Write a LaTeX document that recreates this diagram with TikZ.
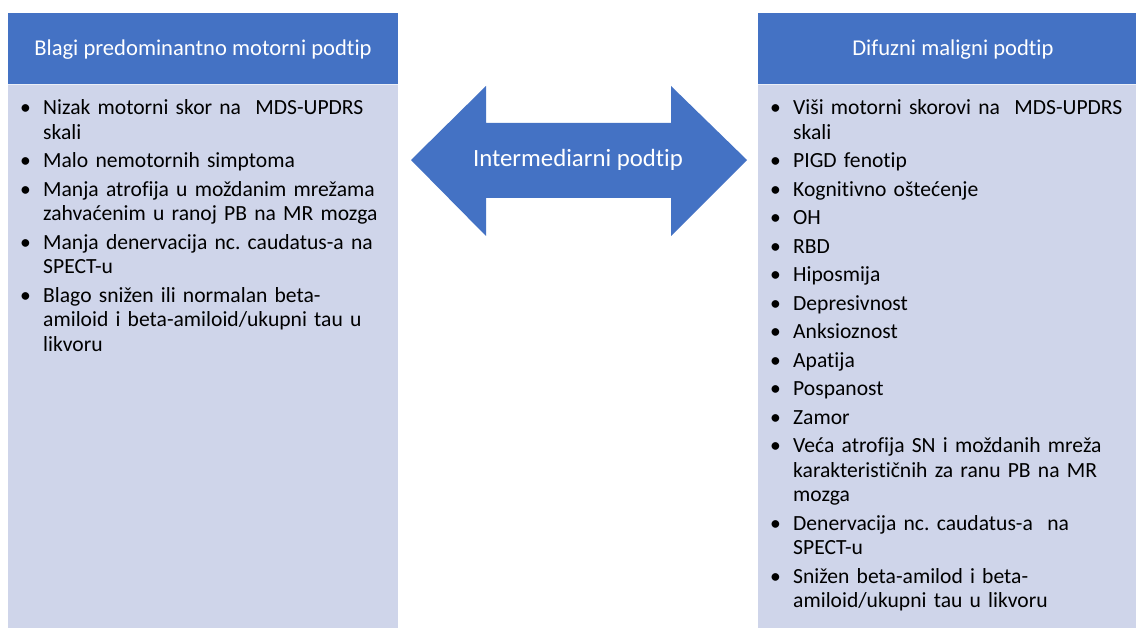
\documentclass[tikz,border=0pt]{standalone}
\usepackage{fontspec}
\setmainfont{Carlito}[Ligatures=NoCommon]
\frenchspacing
\definecolor{hdr}{HTML}{4472C4}
\definecolor{bdy}{HTML}{CFD5EA}
\newcommand{\bul}[1]{\par\noindent\makebox[22pt][l]{\hspace{-1pt}\textbullet}%
  \parbox[t]{345pt}{\raggedright\strut #1\strut}}
\tikzset{
  hdrbox/.style={fill=hdr, draw=none},
  bdybox/.style={fill=bdy, draw=none},
  hdrtext/.style={text=white, font=\fontsize{22.6}{26}\selectfont, inner sep=0pt, anchor=base},
  midtext/.style={text=white, font=\fontsize{24.8}{28}\selectfont, inner sep=0pt, anchor=base},
  listtext/.style={text=black, inner sep=0pt, anchor=north west, text width=370pt,
    font=\fontsize{21.6}{24.5}\selectfont\raggedright\setlength{\parskip}{4pt}\setlength{\lineskip}{0pt}\frenchspacing},
}
\begin{document}
\begin{tikzpicture}[x=1pt,y=-1pt]
\useasboundingbox[fill=white] (0,0) rectangle (1136,628);
% left box
\fill[bdybox] (8,84.5) rectangle (397.5,628);
\fill[hdrbox] (8,13) rectangle (397.5,84.5);
\draw[white, line width=0.8pt, opacity=0.6] (8,84.8) -- (397.5,84.8);
\node[hdrtext] (lh) at (203,56) {Blagi predominantno motorni podtip};
\node[listtext] (ll) at (21,86) {%
\bul{Nizak motorni skor na \ MDS-UPDRS\\skali}
\bul{Malo nemotornih simptoma}
\bul{Manja atrofija u moždanim mrežama\\zahvaćenim u ranoj PB na MR mozga}
\bul{Manja denervacija nc. caudatus-a na\\SPECT-u}
\bul{Blago snižen ili normalan beta-\\amiloid i beta-amiloid/ukupni tau u\\likvoru}};
% right box
\fill[bdybox] (758,84.5) rectangle (1136,628);
\fill[hdrbox] (758,13) rectangle (1136,84.5);
\draw[white, line width=0.8pt, opacity=0.6] (758,84.8) -- (1136,84.8);
\node[hdrtext] (rh) at (953,56) {Difuzni maligni podtip};
\node[listtext] (rl) at (771,86) {%
\bul{Viši motorni skorovi na \ MDS-UPDRS\\skali}
\bul{PIGD fenotip}
\bul{Kognitivno oštećenje}
\bul{OH}
\bul{RBD}
\bul{Hiposmija}
\bul{Depresivnost}
\bul{Anksioznost}
\bul{Apatija}
\bul{Pospanost}
\bul{Zamor}
\bul{Veća atrofija SN i moždanih mreža\\karakterističnih za ranu PB na MR\\mozga}
\bul{Denervacija nc. caudatus-a \ na\\SPECT-u}
\bul{Snižen beta-amilod i beta-\\amiloid/ukupni tau u likvoru}};
% double arrow
\fill[hdr] (411,160) -- (486,86) -- (486,123) -- (671,123) -- (671,86) -- (747,160)
  -- (671,236) -- (671,198) -- (486,198) -- (486,236) -- cycle;
\node[midtext, anchor=center] (mid) at (578,160) {Intermediarni podtip};
\end{tikzpicture}
\end{document}
